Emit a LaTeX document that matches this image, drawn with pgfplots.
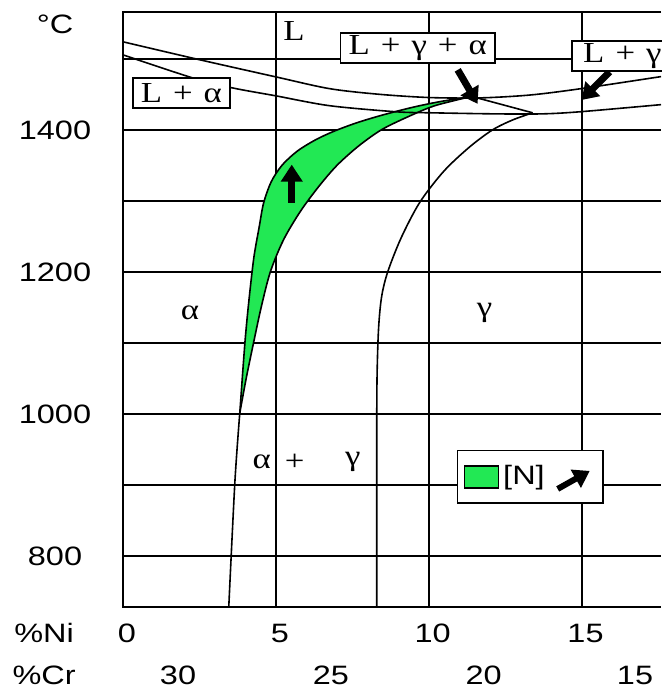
\documentclass[border=0pt]{standalone}
\usepackage{fontspec}
\setmainfont[FakeStretch=1.22]{Liberation Sans}
\newfontfamily\phasefont[FakeStretch=1.2]{Liberation Serif}
\usepackage{pgfplots}
\pgfplotsset{compat=1.18}
\usepgfplotslibrary{fillbetween}
\usetikzlibrary{arrows.meta}
\definecolor{nitrogen}{RGB}{34,232,84}

\newcommand{\ticktext}{\fontsize{13.3}{16}\selectfont}
\newcommand{\phasetext}{\phasefont\fontsize{14.5}{16}\selectfont}
\newcommand{\pl}{\hspace{0.38em}+\hspace{0.38em}}

% alpha/(alpha+gamma) boundary at low and at high nitrogen content
\pgfplotstableread{
x y
3.82 1001
3.99 1101
4.12 1160
4.28 1220
4.45 1262
4.60 1297
4.85 1327
5.20 1350
5.70 1370
6.30 1386
6.90 1398
7.65 1410
8.50 1421
9.50 1432
10.40 1440
11.40 1447
}\lowN
\pgfplotstableread{
x y
3.82 1001
4.03 1050
4.27 1100
4.52 1150
4.82 1200
5.25 1245
5.80 1285
6.40 1320
7.00 1350
7.70 1377
8.45 1400
9.30 1418
10.20 1434
11.40 1447
}\highN

\begin{document}
\begin{tikzpicture}
\begin{axis}[
  at={(0,0)}, anchor=south west,
  scale only axis, width=269pt, height=297.5pt,
  xmin=0, xmax=17.6, ymin=728, ymax=1566,
  axis line style={draw=none},
  xtick={0,5,10,15}, xticklabels={0,5,10,15},
  ytick={800,900,...,1500}, yticklabels={800,,1000,,1200,,1400,},
  major tick length=0pt,
  grid=major, grid style={black, line width=1pt},
  tick label style={font=\ticktext, inner sep=0pt, anchor=center},
  xticklabel style={yshift=-13pt, xshift=2pt},
  yticklabel style={xshift=-34pt},
  clip=false,
  legend style={at={(axis description cs:0.6205,0.2641)}, anchor=north west,
    draw=black, line width=0.8pt, fill=white, font=\ticktext,
    inner xsep=3pt, inner ysep=5.5pt,
    /tikz/every even column/.append style={column sep=3pt}},
]
% frame: left, top and bottom edges
\draw[line width=1.2pt] (rel axis cs:1,1) -- (rel axis cs:0,1) -- (rel axis cs:0,0) -- (rel axis cs:1,0);

% green band between the two boundaries
\addplot[name path=outer, draw=none, smooth, forget plot] table {\lowN};
\addplot[name path=inner, draw=none, smooth, forget plot] table {\highN};
\addplot[nitrogen, forget plot] fill between[of=outer and inner];

% liquidus
\addplot[black, line width=0.8pt, smooth, forget plot] coordinates {
  (0,1524) (2.52,1498.6) (5,1474.6) (6.76,1458) (8.4,1450) (10.03,1445.5)
  (11.67,1445) (13.3,1449) (14.93,1457.7) (17.6,1475)};
% solidus
\addplot[black, line width=0.8pt, smooth, forget plot] coordinates {
  (0,1505.6) (2.29,1473) (3.59,1459) (5.0,1447.9) (6.76,1434) (8.95,1425.4)
  (10.1,1424) (12.2,1422.5) (13.7,1422.5) (14.93,1425.4) (17.6,1435.5)};
% three-phase tie line
\addplot[black, line width=0.8pt, forget plot] coordinates {(11.5,1446) (13.4,1424)};
% gamma/(alpha+gamma) boundary
\addplot[black, line width=0.8pt, smooth, forget plot] coordinates {
  (8.30,728) (8.30,950) (8.31,1050) (8.36,1120) (8.46,1165) (8.66,1200)
  (9.1,1248) (9.71,1298) (10.5,1342) (11.34,1376) (12.09,1400) (12.75,1414)
  (13.4,1424)};
% alpha/(alpha+gamma) boundary: lower stem and both nitrogen levels
\addplot[black, line width=0.8pt, smooth, forget plot] coordinates {
  (3.46,728) (3.66,904) (3.82,1001)};
\addplot[black, line width=0.8pt, smooth, forget plot] table {\lowN};
\addplot[black, line width=0.8pt, smooth, forget plot] table {\highN};

% arrows
\draw[line width=3.5pt, -{Triangle[length=8.5pt, width=10.5pt]}]
  (axis cs:5.52,1297) -- (axis cs:5.52,1351);
\draw[line width=3.5pt, -{Triangle[length=8pt, width=10pt]}]
  (axis cs:10.95,1484.5) -- (axis cs:11.6,1436.6);
\draw[line width=3.5pt, -{Triangle[length=8pt, width=10pt]}]
  (axis cs:15.92,1481.7) -- (axis cs:15.0,1442);

% phase labels
\node[font=\phasetext] at (axis cs:5.59,1539) {L};
\node[font=\phasetext, draw, line width=0.8pt, fill=white, inner xsep=4pt,
  inner ysep=1pt, minimum height=15pt] at (axis cs:1.91,1452) {L\pl α};
\node[font=\phasetext, draw, line width=0.8pt, fill=white, inner xsep=4pt,
  inner ysep=1pt, minimum height=15pt] at (axis cs:9.64,1515.5) {L\pl γ\pl α};
\node[font=\phasetext, draw, line width=0.8pt, fill=white, inner xsep=5.5pt,
  inner ysep=1pt, minimum height=15pt, anchor=west] at (axis cs:14.67,1504)
  {L\pl γ\hspace{30pt}};
\node[font=\phasetext] at (axis cs:2.19,1142) {α};
\node[font=\phasetext] at (axis cs:11.83,1142) {γ};
\node[font=\phasetext] at (axis cs:4.54,932) {α};
\node[font=\phasetext] at (axis cs:5.62,932) {+};
\node[font=\phasetext] at (axis cs:7.52,932) {γ};

% axis captions
\node[font=\ticktext] at (axis cs:-2.22,1548) {°C};
\node[font=\ticktext, yshift=-13pt] at (axis cs:-2.58,728) {\%Ni};
\node[font=\ticktext, yshift=-34pt] at (axis cs:-2.58,728) {\%Cr};
\node[font=\ticktext, yshift=-34pt] at (axis cs:1.8,728) {30};
\node[font=\ticktext, yshift=-34pt] at (axis cs:6.8,728) {25};
\node[font=\ticktext, yshift=-34pt] at (axis cs:11.8,728) {20};
\node[font=\ticktext, yshift=-34pt] at (axis cs:16.75,728) {15};

\addlegendimage{legend image code/.code={
  \draw[fill=nitrogen, line width=0.8pt] (0pt,-5.5pt) rectangle (17pt,5.5pt);}}
\addlegendentry{[N]\hspace{5pt}\tikz[baseline=-1pt]\draw[line width=3pt,
  -{Triangle[length=8pt, width=10pt]}] (0,-3pt) -- (16pt,6pt);\hspace{7pt}}
\end{axis}
\pgfresetboundingbox
\path (-61.5pt,-40.5pt) rectangle (269pt,303.5pt);
\end{tikzpicture}
\end{document}
